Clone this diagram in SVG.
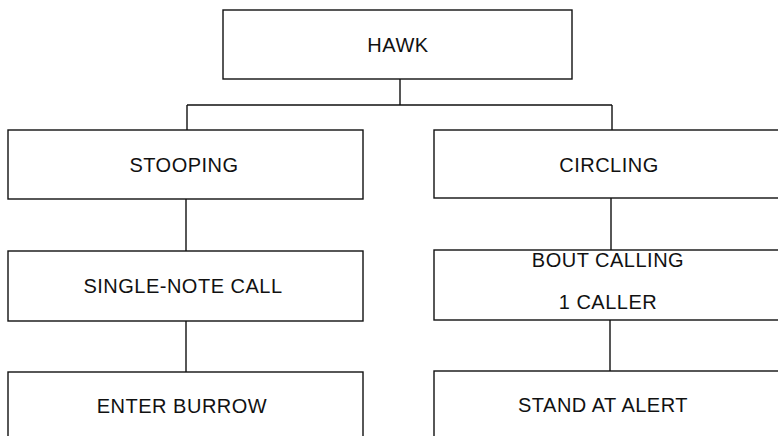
<svg xmlns="http://www.w3.org/2000/svg" width="778" height="436" viewBox="0 0 778 436">
<style>
.box{fill:#fff;stroke:#111;stroke-width:1.4}
.lbl{font-family:"Liberation Sans",Arial,sans-serif;font-size:20px;letter-spacing:0.5px;fill:#111;text-anchor:middle}
.con{fill:none;stroke:#111;stroke-width:1.4}
</style>
<rect width="778" height="436" fill="#fff"/>
<g id="connectors">
<path class="con" d="M400,79 V105 M187,105 H612 M187,105 V130 M612,105 V130"/>
<path class="con" d="M186,199 V251 M186,321 V372"/>
<path class="con" d="M611,198 V250 M610,320 V371"/>
</g>
<g id="hawk"><rect class="box" x="223" y="10" width="349" height="69"/><text class="lbl" x="398" y="52">HAWK</text></g>
<g id="stooping"><rect class="box" x="8" y="130" width="355" height="69"/><text class="lbl" x="184" y="172">STOOPING</text></g>
<g id="circling"><rect class="box" x="434" y="130" width="360" height="68"/><text class="lbl" x="609" y="172">CIRCLING</text></g>
<g id="single-note"><rect class="box" x="8" y="251" width="355" height="70"/><text class="lbl" x="183" y="293">SINGLE-NOTE CALL</text></g>
<g id="bout"><rect class="box" x="434" y="250" width="360" height="70"/><text class="lbl" x="608" y="267">BOUT CALLING</text><text class="lbl" x="608" y="309">1 CALLER</text></g>
<g id="enter-burrow"><rect class="box" x="8" y="372" width="355" height="80"/><text class="lbl" x="182" y="413">ENTER BURROW</text></g>
<g id="stand-alert"><rect class="box" x="434" y="371" width="360" height="80"/><text class="lbl" x="603" y="412">STAND AT ALERT</text></g>
</svg>
